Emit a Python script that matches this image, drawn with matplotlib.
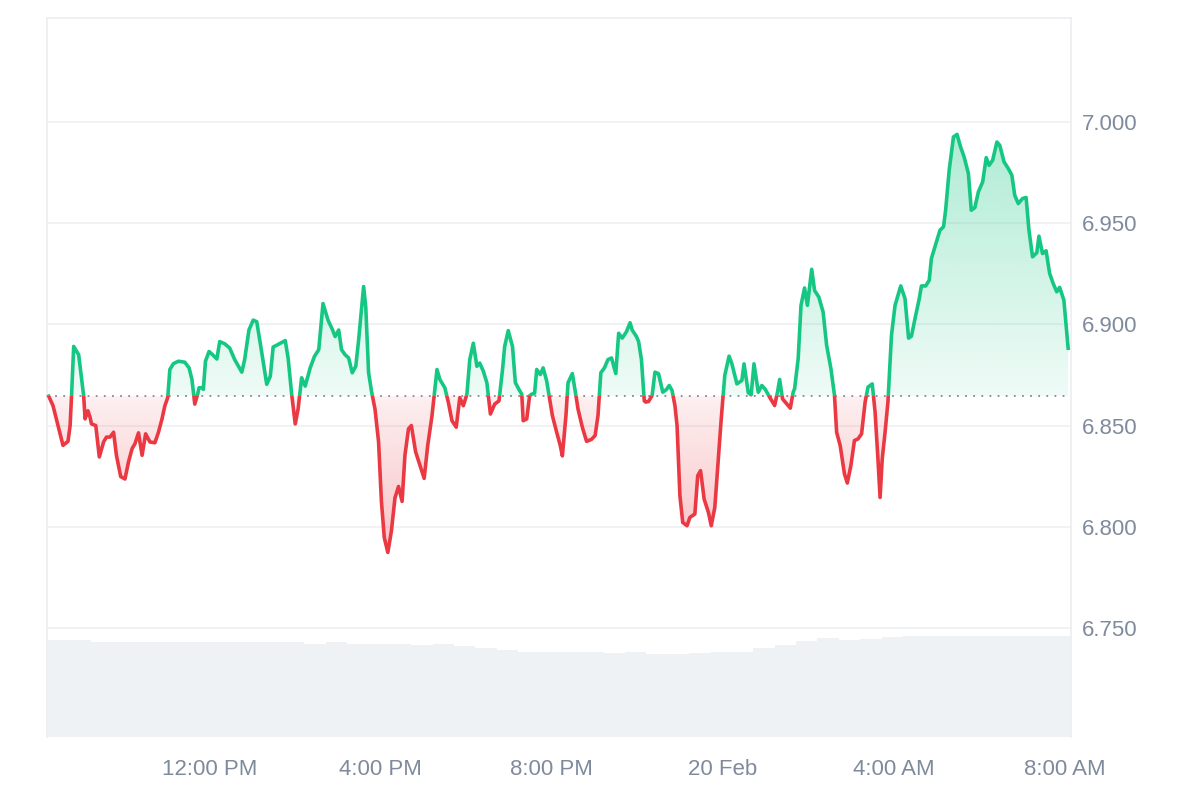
import matplotlib
matplotlib.use("Agg")
import matplotlib.pyplot as plt
import matplotlib.dates as mdates
import numpy as np
import pandas as pd
from matplotlib.path import Path
from matplotlib.patches import Rectangle
from matplotlib.colors import to_rgb

plt.rcParams['font.family'] = ['Liberation Sans', 'DejaVu Sans']

# price readings: minutes after the first sample, and price
start = pd.Timestamp("2024-02-19 08:13")
minutes = [
    1, 7, 14, 21, 28, 31, 33, 36, 43, 50, 52, 56, 59, 61, 67, 72, 78, 82, 87, 92,
    96, 102, 108, 113, 118, 122, 127, 132, 137, 143, 150, 155, 160, 164, 168, 171, 176, 183, 192, 198,
    202, 206,
    210, 212, 216, 218, 221, 226, 231, 237, 241, 248, 255, 262, 272, 276, 282, 288, 293, 299, 307, 312,
    316, 322, 333, 337, 342, 347, 351, 356, 361, 368, 374, 380, 386, 393, 399, 403, 408, 412, 417,
    422, 427, 432, 436, 443, 446, 450, 454, 459, 464, 468, 472, 477, 482, 487, 492, 497, 501, 506, 510,
    516, 522, 528, 533, 539, 546, 550, 557, 562, 567, 573, 578, 583, 588, 592, 597, 602, 606, 611, 616,
    621, 627,
    633, 638, 641, 646, 652, 656, 661, 665, 667, 672, 676, 679, 683, 686, 691, 695, 700, 705, 708, 714,
    719, 722, 727, 730, 736, 740, 744, 750, 756, 763, 768, 772, 776, 781, 786, 791, 797, 801, 806, 812,
    817, 820, 826, 829, 833, 837,
    839, 843, 848, 852, 857, 863, 868, 872, 876, 880, 883, 887, 891, 897, 901, 908, 912, 916, 921, 927,
    931, 936, 941, 945, 950, 956, 960, 967, 974, 977, 983, 987, 991, 997, 1002, 1007, 1013, 1020, 1024, 1027,
    1031, 1037, 1042, 1046, 1048,
    1053, 1057, 1062, 1066, 1072, 1076, 1082, 1088, 1093, 1099, 1104, 1107, 1112, 1118, 1122, 1127, 1132, 1137, 1142, 1147,
    1151, 1157, 1161, 1165, 1168, 1171, 1175, 1179, 1184, 1189, 1197, 1203, 1208, 1212, 1218, 1223, 1226, 1232, 1237, 1240,
    1252, 1257, 1260, 1265, 1271, 1276, 1281, 1286, 1292, 1296, 1301, 1306, 1312, 1317, 1321, 1326, 1332, 1336, 1342, 1348,
    1353, 1357, 1362, 1368, 1373, 1377, 1382, 1388, 1391, 1396, 1401, 1406, 1411, 1416, 1420, 1426, 1432,
]
prices = [
    6.8645, 6.8598, 6.8500, 6.8402, 6.8422, 6.8500, 6.8647, 6.8891, 6.8850, 6.8647, 6.8533, 6.8573, 6.8541, 6.8508, 6.8500, 6.8345, 6.8419, 6.8443, 6.8443, 6.8467,
    6.8353, 6.8248, 6.8236, 6.8321, 6.8386, 6.8410, 6.8464, 6.8353, 6.8459, 6.8419, 6.8415, 6.8467, 6.8533, 6.8598, 6.8638, 6.8777, 6.8806, 6.8818, 6.8813, 6.8785,
    6.8728, 6.8606,
    6.8655, 6.8687, 6.8687, 6.8679, 6.8818, 6.8866, 6.8850, 6.8829, 6.8915, 6.8904, 6.8883, 6.8826, 6.8764, 6.8826, 6.8972, 6.9021, 6.9013, 6.8883, 6.8704, 6.8744,
    6.8888, 6.8899, 6.8920, 6.8834, 6.8655, 6.8508, 6.8581, 6.8736, 6.8695, 6.8785, 6.8842, 6.8875, 6.9103, 6.9021, 6.8976, 6.8940, 6.8972, 6.8875, 6.8850,
    6.8834, 6.8761, 6.8793, 6.8923, 6.9187, 6.9086, 6.8761, 6.8671, 6.8581, 6.8419, 6.8125, 6.7946, 6.7873, 6.7979, 6.8142, 6.8199, 6.8125, 6.8353, 6.8484, 6.8500,
    6.8370, 6.8305, 6.8239, 6.8402, 6.8549, 6.8777, 6.8728, 6.8687, 6.8614, 6.8524, 6.8492, 6.8638, 6.8598, 6.8655, 6.8826, 6.8907, 6.8793, 6.8809, 6.8769, 6.8712,
    6.8557, 6.8606,
    6.8622, 6.8777, 6.8891, 6.8969, 6.8891, 6.8712, 6.8679, 6.8655, 6.8524, 6.8533, 6.8647, 6.8655, 6.8660, 6.8777, 6.8752, 6.8785, 6.8720, 6.8614, 6.8549, 6.8467,
    6.8402, 6.8350, 6.8549, 6.8712, 6.8757, 6.8671, 6.8581, 6.8492, 6.8422, 6.8432, 6.8451, 6.8549, 6.8761, 6.8785, 6.8826, 6.8834, 6.8757, 6.8956, 6.8932, 6.8964,
    6.9008, 6.8972, 6.8940, 6.8915, 6.8826, 6.8622,
    6.8616, 6.8619, 6.8649, 6.8764, 6.8756, 6.8665, 6.8678, 6.8698, 6.8673, 6.8599, 6.8500, 6.8153, 6.8021, 6.8005, 6.8046, 6.8063, 6.8252, 6.8277, 6.8137, 6.8071,
    6.8005, 6.8096, 6.8335, 6.8533, 6.8748, 6.8843, 6.8805, 6.8706, 6.8723, 6.8805, 6.8662, 6.8652, 6.8805, 6.8665, 6.8698, 6.8678, 6.8640, 6.8599, 6.8665, 6.8728,
    6.8632, 6.8607, 6.8586, 6.8665, 6.8682,
    6.8830, 6.9094, 6.9180, 6.9094, 6.9272, 6.9168, 6.9135, 6.9061, 6.8896, 6.8781, 6.8649, 6.8467, 6.8401, 6.8261, 6.8216, 6.8302, 6.8426, 6.8434, 6.8459, 6.8616,
    6.8690, 6.8706, 6.8566, 6.8335, 6.8145, 6.8335, 6.8467, 6.8616, 6.8946, 6.9094, 6.9190, 6.9127, 6.8932, 6.8942, 6.9045, 6.9127, 6.9190, 6.9190, 6.9218, 6.9325,
    6.9465, 6.9482, 6.9564, 6.9762, 6.9926, 6.9939, 6.9877, 6.9827, 6.9745, 6.9564, 6.9577, 6.9655, 6.9704, 6.9824, 6.9786, 6.9811, 6.9901, 6.9885, 6.9803, 6.9770,
    6.9737, 6.9638, 6.9597, 6.9622, 6.9627, 6.9465, 6.9334, 6.9354, 6.9436, 6.9350, 6.9364, 6.9252, 6.9202, 6.9161, 6.9183, 6.9120, 6.8882,
]

# volume per 30 minute bin (millions)
vol_step = 30
volumes = [
    4.85, 4.85, 4.75, 4.75, 4.75, 4.75, 4.75, 4.75, 4.75, 4.75, 4.75, 4.75,
    4.65, 4.75, 4.65, 4.65, 4.65, 4.60, 4.65, 4.55, 4.45, 4.35, 4.25, 4.25,
    4.25, 4.25, 4.20, 4.25, 4.15, 4.15, 4.20, 4.25, 4.25, 4.45, 4.60, 4.80,
    4.95, 4.85, 4.90, 5.00, 5.05, 5.05, 5.05, 5.05, 5.05, 5.05, 5.05, 5.05,
]

tick_times = ["2024-02-19 12:00", "2024-02-19 16:00", "2024-02-19 20:00",
              "2024-02-20 00:00", "2024-02-20 04:00", "2024-02-20 08:00"]
tick_labels = ["12:00 PM", "4:00 PM", "8:00 PM", "20 Feb", "4:00 AM", "8:00 AM"]
price_ticks = [6.75, 6.80, 6.85, 6.90, 6.95, 7.00]

GREEN = "#16c784"
RED = "#ea3943"
GRAY = "#808a9d"

t = mdates.date2num(start + pd.to_timedelta(minutes, unit="m"))
p = np.array(prices)
base = prices[0]

fig = plt.figure(figsize=(12, 8), dpi=100)
ax = fig.add_axes([0.0392, 0.07875, 0.8533, 0.89875])
ax2 = ax.twinx()
ax.set_zorder(2)
ax2.set_zorder(1)
ax.patch.set_visible(False)

# volume
vt = mdates.date2num(start + pd.to_timedelta(np.arange(len(volumes)) * vol_step, unit="m"))
ax2.bar(vt, volumes, width=vol_step / 1440, align="edge", color="#eff2f5", linewidth=0)
ax2.set_ylim(0, 35.95)
ax2.set_yticks([])
for s in ax2.spines.values():
    s.set_visible(False)


def gradient(poly, color, lo, hi, a_lo, a_hi):
    clip = Path.make_compound_path(*poly.get_paths())
    arr = np.zeros((256, 1, 4))
    arr[..., :3] = to_rgb(color)
    arr[:, 0, 3] = np.linspace(a_lo, a_hi, 256)
    im = ax.imshow(arr, extent=[t[0], t[-1], lo, hi], origin="lower",
                   aspect="auto", interpolation="bilinear", zorder=1)
    im.set_clip_path(clip, transform=ax.transData)


up = ax.fill_between(t, p, base, where=p >= base, interpolate=True,
                     facecolor="none", edgecolor="none")
dn = ax.fill_between(t, p, base, where=p <= base, interpolate=True,
                     facecolor="none", edgecolor="none")
gradient(up, GREEN, base, p.max(), 0.07, 0.34)
gradient(dn, RED, p.min(), base, 0.30, 0.08)

lg, = ax.plot(t, p, color=GREEN, lw=2.6, solid_joinstyle="round", zorder=3)
lg.set_clip_path(Rectangle((t[0] - 1, base), 10, 10, transform=ax.transData))
lr, = ax.plot(t, p, color=RED, lw=2.6, solid_joinstyle="round", zorder=3)
lr.set_clip_path(Rectangle((t[0] - 1, base - 10), 10, 10, transform=ax.transData))

ax.axhline(base, color=GRAY, lw=1.3, ls=(0, (1, 3.5)), zorder=2)

# axes styling
ax.set_xlim(mdates.date2num(start - pd.Timedelta(minutes=1.4)),
            mdates.date2num(start + pd.Timedelta(minutes=1436)))
ax.set_ylim(6.6961, 7.0514)
ax.yaxis.tick_right()
ax.set_yticks(price_ticks)
ax.set_yticklabels(["{:.3f}".format(v) for v in price_ticks])
ax.set_xticks(mdates.date2num(pd.to_datetime(tick_times)))
ax.set_xticklabels(tick_labels)
ax.grid(axis="y", color="#eff0f2", lw=1.2)
ax.set_axisbelow(True)
ax.tick_params(axis="both", length=0, labelsize=16, labelcolor=GRAY)
ax.tick_params(axis="y", pad=8)
ax.tick_params(axis="x", pad=16)
for side in ["left", "right", "top"]:
    ax.spines[side].set_color("#eceef1")
    ax.spines[side].set_linewidth(1.2)
ax.spines["bottom"].set_visible(False)

fig.savefig("out.png", dpi=100)
